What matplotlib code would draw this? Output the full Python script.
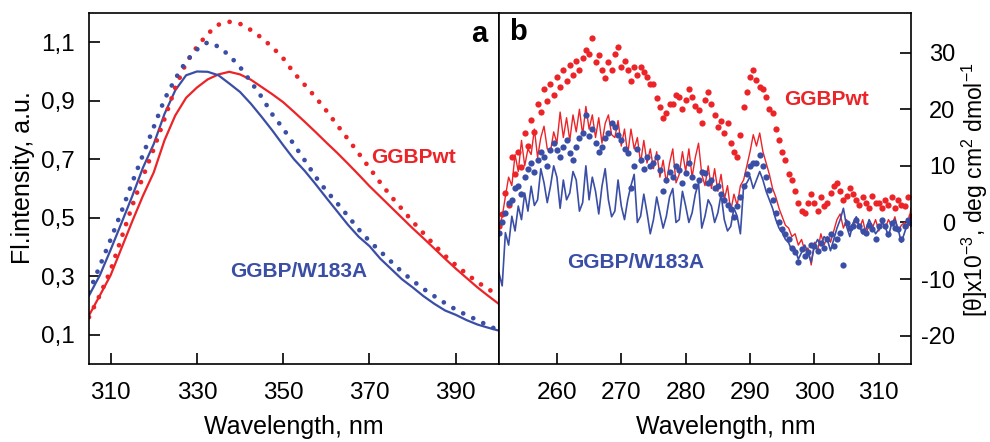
import numpy as np
import matplotlib
matplotlib.use('Agg')
import matplotlib.pyplot as plt

plt.rcParams['font.family'] = ['Liberation Sans', 'DejaVu Sans']
plt.rcParams['axes.unicode_minus'] = False
plt.rcParams['mathtext.fontset'] = 'custom'
plt.rcParams['mathtext.rm'] = 'Liberation Sans'
plt.rcParams['mathtext.it'] = 'Liberation Sans:italic'

RED = '#ec2327'
BLUE = '#3a4ea6'

# ---- panel a: fluorescence spectra (2.5 nm step) ----
wl_a = np.arange(305, 400.1, 2.5)
fl_wt = [0.166, 0.234, 0.303, 0.395, 0.487, 0.575, 0.655, 0.765,
         0.850, 0.910, 0.945, 0.973, 0.990, 0.999, 0.990, 0.972,
         0.947, 0.922, 0.895, 0.862, 0.828, 0.793, 0.757, 0.722,
         0.685, 0.647, 0.608, 0.572, 0.536, 0.500, 0.464, 0.430,
         0.395, 0.360, 0.326, 0.294, 0.262, 0.233, 0.205]
fl_wt_dot = [0.160, 0.235, 0.320, 0.430, 0.540, 0.640, 0.735, 0.838,
             0.945, 1.029, 1.084, 1.129, 1.160, 1.170, 1.163, 1.142,
             1.115, 1.083, 1.045, 0.995, 0.954, 0.912, 0.866, 0.817,
             0.769, 0.720, 0.670, 0.620, 0.573, 0.530, 0.487, 0.447,
             0.407, 0.370, 0.338, 0.308, 0.280, 0.256, 0.234]
fl_mut = [0.234, 0.303, 0.390, 0.481, 0.573, 0.671, 0.752, 0.855,
          0.936, 0.987, 1.000, 0.999, 0.987, 0.959, 0.930, 0.890,
          0.845, 0.798, 0.748, 0.700, 0.660, 0.615, 0.568, 0.522,
          0.476, 0.435, 0.403, 0.360, 0.325, 0.290, 0.262, 0.232,
          0.206, 0.183, 0.168, 0.150, 0.135, 0.124, 0.114]
fl_mut_dot = [0.245, 0.335, 0.425, 0.520, 0.620, 0.715, 0.810, 0.905,
              0.975, 1.035, 1.075, 1.100, 1.085, 1.055, 1.015, 0.965,
              0.913, 0.853, 0.805, 0.750, 0.696, 0.640, 0.592, 0.550,
              0.506, 0.460, 0.420, 0.385, 0.350, 0.315, 0.285, 0.257,
              0.232, 0.208, 0.186, 0.167, 0.150, 0.131, 0.115]
yticks_a = [0.1, 0.3, 0.5, 0.7, 0.9, 1.1]
ylabels_a = ['0,1', '0,3', '0,5', '0,7', '0,9', '1,1']
xticks_a = [310, 330, 350, 370, 390]

# ---- panel b: CD spectra (0.5 nm step) ----
wl_b = np.arange(251, 315.01, 0.5)
cd_wt_dots = [-0.7, 1.5, 5.2, 3.0, 11.6, 8.5, 12.5, 9.8, 15.8, 13.5,
              18.1, 16.0, 21.0, 19.5, 23.5, 21.5, 24.5, 22.5, 25.7, 24.0,
              27.0, 25.0, 27.8, 26.0, 28.5, 27.0, 29.0, 30.5, 29.8, 32.5,
              28.4, 29.5, 26.9, 25.5, 28.4, 27.0, 29.8, 31.0, 27.5, 28.5,
              26.9, 25.0, 27.5, 26.0, 27.5, 26.5, 25.7, 24.5, 24.5, 22.0,
              20.4, 18.5, 19.3, 21.0, 21.0, 22.5, 22.2, 20.0, 21.6, 23.5,
              22.2, 20.5, 19.9, 17.5, 21.6, 23.0, 21.0, 19.0, 16.9, 18.0,
              15.8, 17.5, 14.0, 12.5, 11.5, 15.5, 20.4, 23.0, 25.7, 27.0,
              25.1, 24.0, 23.5, 22.2, 20.0, 19.3, 16.5, 14.6, 12.5, 11.0,
              8.5, 7.5, 5.5, 3.5, 2.0, 1.7, 3.5, 5.0, 3.4, 2.0,
              4.5, 2.9, 3.5, 5.2, 6.5, 7.0, 5.5, 4.0, 4.6, 6.0,
              5.0, 4.0, 3.0, 4.5, 3.5, 2.5, 4.6, 3.5, 3.4, 2.5,
              4.0, 3.0, 4.5, 2.5, 4.0, 3.0, 2.9, 4.5, 1.1]
cd_wt_line = [-0.7, 1.0, 4.6, 8.0, 6.5, 12.0, 9.0, 14.5, 10.0, 13.0,
              12.0, 16.5, 11.5, 15.0, 17.0, 13.0, 12.5, 16.0, 14.0, 19.5,
              15.0, 18.5, 14.5, 19.0, 16.0, 20.0, 15.5, 20.5, 16.5, 19.0,
              15.0, 18.5, 14.0, 17.5, 19.0, 15.5, 15.0, 18.0, 13.5, 16.5,
              12.0, 16.5, 13.0, 15.0, 10.5, 14.5, 10.5, 13.0, 9.5, 12.5,
              8.0, 11.0, 7.0, 10.5, 13.0, 7.0, 8.5, 12.5, 9.0, 13.0,
              8.0, 11.5, 14.0, 8.5, 6.5, 10.0, 6.0, 9.5, 5.5, 8.5,
              4.0, 6.5, 2.0, 5.0, 3.0, 6.5, 7.5, 10.0, 12.5, 15.5,
              13.5, 15.8, 12.5, 10.5, 8.5, 6.0, 4.5, 2.5, 1.0, -0.5,
              -1.0, -2.5, -2.0, -4.0, -3.0, -5.0, -4.5, -7.5, -3.5, -5.0,
              -2.0, -4.0, -2.5, -3.5, -1.5, 0.5, 1.5, -1.0, 0.5, -1.5,
              -0.5, 0.5, -1.0, 0.5, -2.0, -0.5, -1.0, 0.5, -1.5, 0.0,
              -1.0, 0.5, -0.5, 1.0, -1.5, -0.5, 0.0, -1.0, 2.5]
cd_mut_dots = [-1.8, 0.0, 1.7, 3.5, 4.0, 6.0, 6.4, 5.0, 8.1, 9.5,
               10.5, 9.0, 11.1, 12.5, 11.6, 10.0, 12.8, 14.0, 12.8, 11.5,
               13.4, 14.5, 12.3, 11.0, 13.4, 15.0, 15.8, 19.0, 15.2, 16.5,
               14.0, 12.5, 13.4, 15.0, 15.8, 17.5, 16.9, 15.5, 14.6, 13.0,
               12.3, 6.0, 9.9, 13.0, 11.1, 9.5, 11.6, 10.0, 10.5, 11.5,
               9.3, 5.5, 7.5, 9.0, 8.1, 10.0, 9.3, 7.0, 8.7, 10.5,
               8.1, 6.5, 7.5, 9.0, 8.7, 7.0, 7.5, 6.0, 6.4, 5.0,
               4.0, 3.0, 2.3, 1.0, 2.9, 4.5, 6.4, 8.5, 9.9, 10.5,
               10.5, 12.0, 9.9, 8.0, 5.8, 4.0, 1.7, 0.0, -1.2, -2.0,
               -3.0, -4.5, -5.3, -7.0, -4.7, -6.0, -5.3, -4.0, -4.1, -5.0,
               -3.6, -4.5, -3.0, -2.0, -4.1, -3.0, -1.8, -7.5, -0.1, -1.0,
               -0.7, 0.5, -0.7, -1.5, -1.8, -0.5, -1.2, -3.0, -0.7, 0.5,
               -0.7, -2.0, -0.1, -1.0, -1.2, -3.0, -0.7, 0.5, -0.1]
cd_mut_line = [-8.9, -11.2, -1.8, -4.0, 1.1, -1.5, 2.9, 0.5, 5.2, 2.0,
               6.4, 3.0, 4.0, 9.5, 7.0, 3.5, 6.4, 10.0, 8.0, 2.5,
               7.5, 4.0, 5.2, 9.0, 7.5, 2.0, 3.5, 10.0, 4.0, 8.0,
               5.5, 1.5, 6.4, 9.5, 4.0, 1.0, 2.0, 7.5, 2.9, 0.5,
               4.0, 6.5, 8.5, 0.0, 1.1, 5.0, 1.7, -2.0, 0.5, 4.5,
               1.7, -1.0, 1.1, 4.5, 6.0, 0.0, 0.5, 5.5, 2.9, 0.0,
               1.7, 5.0, 7.0, -1.0, 1.1, 4.0, 2.9, 0.0, 1.7, 5.0,
               0.5, -1.5, -0.7, 2.5, 1.1, -2.0, 6.4, 7.0, 8.1, 6.0,
               7.5, 9.0, 7.5, 5.5, 4.0, 2.5, 0.5, -1.0, -1.8, -3.0,
               -3.6, -5.0, -4.7, -6.5, -5.3, -4.0, -5.3, -7.0, -4.1, -3.0,
               -4.1, -2.5, -3.0, -5.0, -3.0, -1.0, 0.5, 2.5, -0.7, -2.5,
               -0.1, 1.0, -0.7, -2.0, -1.2, 0.5, -0.7, -2.0, -1.2, 0.0,
               -0.7, -2.5, -0.1, 0.5, -1.2, -3.5, -1.8, 0.0, -0.7]
yticks_b = [-20, -10, 0, 10, 20, 30]
xticks_b = [260, 270, 280, 290, 300, 310]

fig = plt.figure(figsize=(9.9, 4.42), dpi=100)
ax1 = fig.add_axes([0.0899, 0.1765, 0.4141, 0.7941])
ax2 = fig.add_axes([0.5040, 0.1765, 0.4162, 0.7941])

# panel a
dots = (0, (0.01, 2.35))
ax1.plot(wl_a, fl_wt, color=RED, lw=1.6)
ax1.plot(wl_a, fl_mut, color=BLUE, lw=1.6)
ax1.plot(wl_a, fl_wt_dot, color=RED, lw=3.4, ls=dots, dash_capstyle='round')
ax1.plot(wl_a, fl_mut_dot, color=BLUE, lw=3.4, ls=dots, dash_capstyle='round')
ax1.set_xlim(305, 400)
ax1.set_ylim(0, 1.2)
ax1.set_xticks(xticks_a)
ax1.set_yticks(yticks_a)
ax1.set_yticklabels(ylabels_a)
ax1.tick_params(axis='x', direction='in', length=8, width=1.2, labelsize=17.5, pad=13)
ax1.tick_params(axis='y', direction='in', length=8, width=1.2, labelsize=17.5, pad=10)
ax1.set_xlabel('Wavelength, nm', fontsize=18, va='baseline')
ax1.xaxis.set_label_coords(0.5, -0.2)
ax1.set_ylabel('Fl.intensity, a.u.', fontsize=18, va='center')
ax1.yaxis.set_label_coords(-0.161, 0.53)
ax1.text(380.1, 0.688, 'GGBPwt', color=RED, fontsize=15, fontweight='bold',
         ha='center', va='baseline')
ax1.text(353.7, 0.298, 'GGBP/W183A', color=BLUE, fontsize=15, fontweight='bold',
         ha='center', va='baseline')
ax1.text(0.952, 0.939, 'a', transform=ax1.transAxes, fontsize=21, fontweight='bold',
         ha='center', va='center')

# panel b
ax2.plot(wl_b, cd_wt_line, color=RED, lw=1.0)
ax2.plot(wl_b, cd_mut_line, color=BLUE, lw=1.2)
ax2.plot(wl_b, cd_wt_dots, 'o', color=RED, ms=4.5, mew=0)
ax2.plot(wl_b, cd_mut_dots, 'o', color=BLUE, ms=4.5, mew=0)
ax2.set_xlim(251, 315)
ax2.set_ylim(-25, 37)
ax2.set_xticks(xticks_b)
ax2.set_yticks(yticks_b)
ax2.yaxis.tick_right()
ax2.tick_params(axis='x', direction='in', length=8, width=1.2, labelsize=17.5, pad=13)
ax2.tick_params(axis='y', direction='in', length=8, width=1.2, labelsize=17, pad=32,
                left=False, right=True)
plt.setp(ax2.get_yticklabels(), ha='right')
ax2.set_xlabel('Wavelength, nm', fontsize=18, va='baseline')
ax2.xaxis.set_label_coords(0.551, -0.2)
ax2.yaxis.set_label_position('right')
ax2.set_ylabel(r'[θ]x10$^{-3}$, deg cm$^{2}$ dmol$^{-1}$', fontsize=16.5,
               rotation=90, va='center', ha='center')
ax2.yaxis.set_label_coords(1.1553, 0.496)
ax2.text(301.9, 20.75, 'GGBPwt', color=RED, fontsize=15, fontweight='bold',
         ha='center', va='baseline')
ax2.text(272.3, -7.97, 'GGBP/W183A', color=BLUE, fontsize=15, fontweight='bold',
         ha='center', va='baseline')
ax2.text(0.045, 0.947, 'b', transform=ax2.transAxes, fontsize=21, fontweight='bold',
         ha='center', va='center')

for ax in (ax1, ax2):
    for s in ax.spines.values():
        s.set_linewidth(1.2)

fig.savefig('out.png', dpi=100)
